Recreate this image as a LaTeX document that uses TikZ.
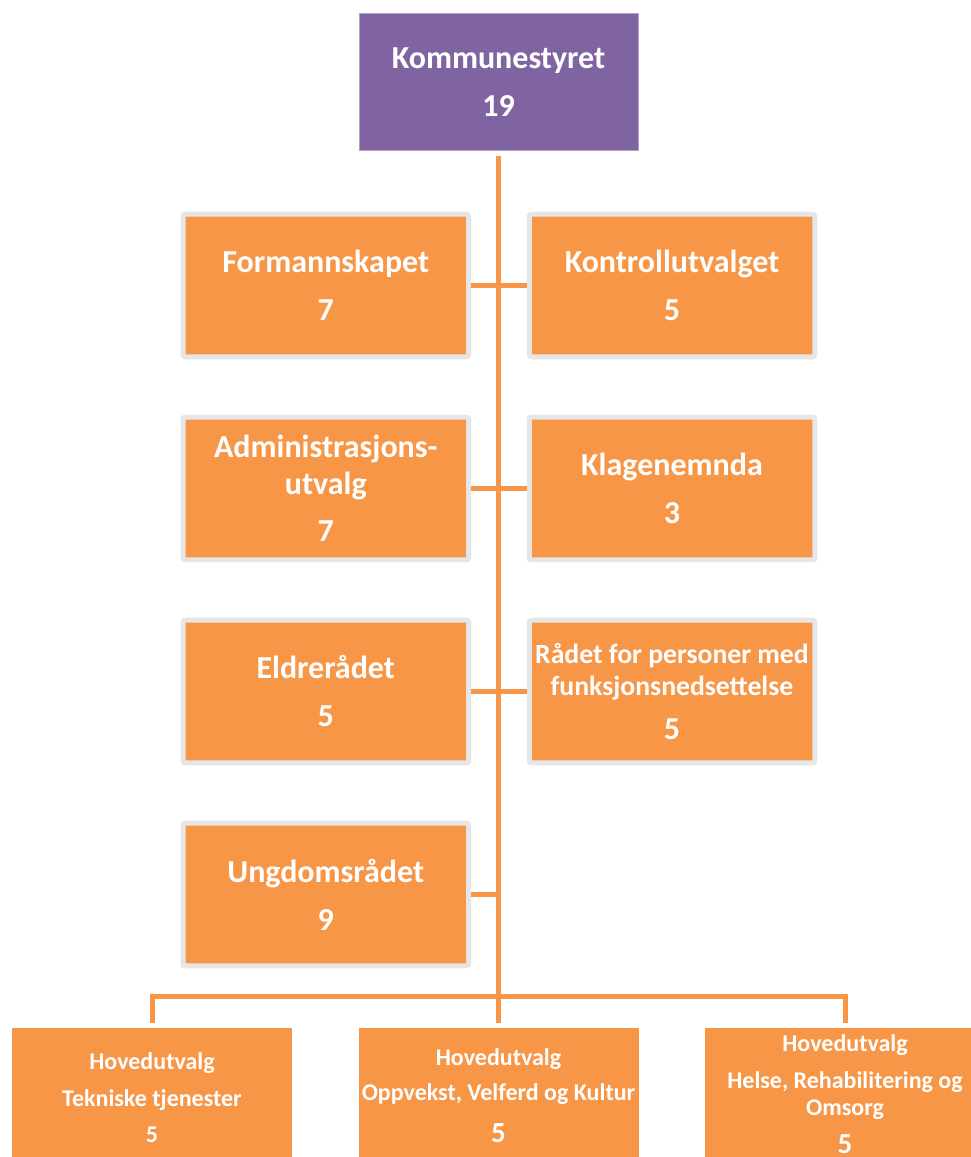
\documentclass[tikz,border=0pt]{standalone}
\usepackage{fontspec}
\setmainfont{Carlito}
\definecolor{orgorange}{HTML}{F79646}
\definecolor{orgpurple}{HTML}{8064A2}
\definecolor{orgpurpleedge}{HTML}{B3A2C7}
\definecolor{orggray}{HTML}{E6E6E6}
\tikzset{
  x=1pt, y=-1pt,
  topbox/.style={fill=orgpurple, draw=orgpurpleedge, line width=1pt, minimum width=279pt, minimum height=137pt, inner sep=0pt, align=center, text=white, font=\fontsize{32}{37}\selectfont\bfseries},
  orgbox/.style={fill=orgorange, draw=orggray, line width=5pt, rounded corners=2pt, minimum width=285.5pt, minimum height=142.6pt, inner sep=0pt, align=center, text=white, font=\fontsize{32}{37}\selectfont\bfseries},
  smallbox/.style={orgbox, font=\fontsize{27.7}{32}\selectfont\bfseries},
  botbox/.style={fill=orgorange, draw=none, anchor=north, minimum width=280pt, inner sep=0pt, align=center, text=white, font=\fontsize{24}{27}\selectfont\bfseries},
  conn/.style={draw=orgorange, line width=5pt}
}
\begin{document}
\begin{tikzpicture}
\useasboundingbox (0,0) rectangle (971,1157);
\clip (0,0) rectangle (971,1157);
\fill[white] (0,0) rectangle (971,1157);
% nodes
\node[topbox] (ks) at (498.5,82.2) {Kommunestyret\\[11pt]19};
\node[orgbox] (form) at (325.75,285.5) {Formannskapet\\[11pt]7};
\node[orgbox] (kontr) at (672,285.5) {Kontrollutvalget\\[11pt]5};
\node[orgbox] (adm) at (325.75,488.5) {Administrasjons-\\utvalg\\[10pt]7};
\node[orgbox] (klage) at (672,488.5) {Klagenemnda\\[11pt]3};
\node[orgbox] (eldre) at (325.75,691.5) {Eldrerådet\\[11pt]5};
\node[smallbox] (radet) at (672,691.5) {Rådet for personer med\\funksjonsnedsettelse\\[12pt]{\fontsize{32}{37}\selectfont 5}};
\node[orgbox] (ungdom) at (325.75,894.5) {Ungdomsrådet\\[11pt]9};
\node[botbox, minimum height=138pt] (b1) at (152,1028) {Hovedutvalg\\[10pt]Tekniske tjenester\\[9pt]5};
\node[botbox, minimum height=134pt] (b2) at (498.5,1028) {Hovedutvalg\\[8pt]Oppvekst, Velferd og Kultur\\[15pt]{\fontsize{29}{30}\selectfont 5}};
\node[botbox, minimum height=132pt] (b3) at (845,1028) {Hovedutvalg\\[10pt]Helse, Rehabilitering og\\Omsorg\\[11pt]{\fontsize{29}{30}\selectfont 5}};
% coordinates
\coordinate (barL) at (152,996);
\coordinate (barR) at (845,996);
% connectors
\draw[conn] ([yshift=-5pt]ks.south) -- ([yshift=5pt]b2.north);
\draw[conn] (form.east) -- (kontr.west);
\draw[conn] (adm.east) -- (klage.west);
\draw[conn] (eldre.east) -- (radet.west);
\draw[conn] (ungdom.east) -- (ungdom.east -| ks.south);
\draw[conn, line join=miter] ([yshift=5pt]b1.north) -- (b1.north |- barL) -- (b3.north |- barR) -- ([yshift=5pt]b3.north);
\end{tikzpicture}
\end{document}
